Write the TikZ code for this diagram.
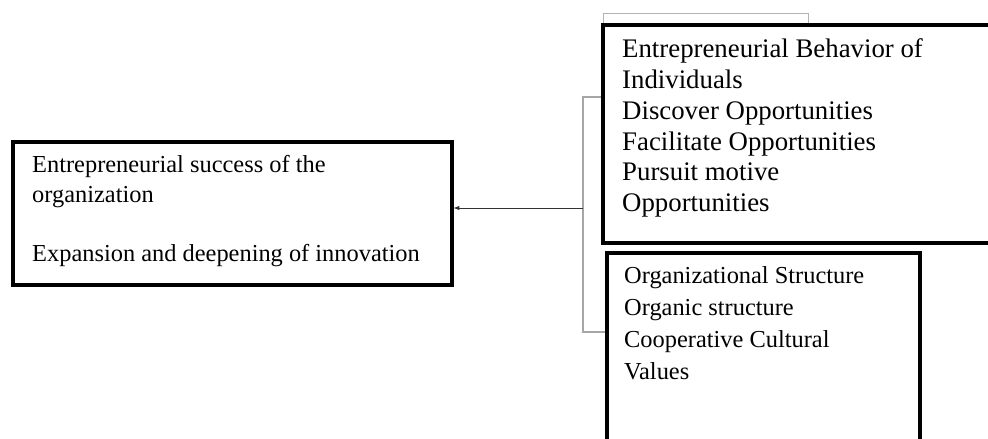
\documentclass[tikz,border=0pt]{standalone}
\usepackage{fontspec}
\setmainfont{Liberation Serif}
\usetikzlibrary{arrows}
\tikzset{
      framebox/.style={draw=black, line width=3.5, fill=white, inner sep=0, anchor=north west},
      hiddenbox/.style={draw=gray!60, line width=1.3, inner sep=0, anchor=north west},
      boxtext/.style={align=left, inner sep=0, anchor=north west},
      link/.style={draw=gray!70, line width=1.3},
      arrowlink/.style={draw=black!80, line width=1, ->, >=latex},
}

\begin{document}
\begin{tikzpicture}[x=1pt, y=-1pt]
        % page frame
        \clip (0,0) rectangle (988,439);

        % Draw the boxes
        \node[hiddenbox, minimum width=205, minimum height=47] (topbox) at (603,13) {};
        \node[framebox, minimum width=439, minimum height=143] (success) at (11,140) {};
        \node[framebox, minimum width=399, minimum height=218] (behav) at (601,23) {};
        \node[framebox, minimum width=313, minimum height=190] (struct) at (605,251) {};

        % Texts in the boxes
        \node[boxtext, font=\fontsize{24.4}{29.5}\selectfont] (successtxt) at (32,155.3)
            {Entrepreneurial success of the\\organization\\[29.5pt]Expansion and deepening of innovation};
        \node[boxtext, font=\fontsize{26.8}{30.8}\selectfont] (behavtxt) at (622,38.7)
            {Entrepreneurial Behavior of\\Individuals\\Discover Opportunities\\Facilitate Opportunities\\Pursuit motive\\Opportunities};
        \node[boxtext, font=\fontsize{24.4}{32}\selectfont] (structtxt) at (624,266.2)
            {Organizational Structure\\Organic structure\\Cooperative Cultural\\Values};

        % Draw the connectors
        \coordinate (jtop) at (583,97);
        \coordinate (jmid) at (583,208);
        \coordinate (jbot) at (583,332);
        \draw[link] (behav.west |- jtop) -- (jtop) -- (jbot) -- (struct.west |- jbot);
        \draw[arrowlink] (jmid) -- (success.east |- jmid);

\end{tikzpicture}
\end{document}
